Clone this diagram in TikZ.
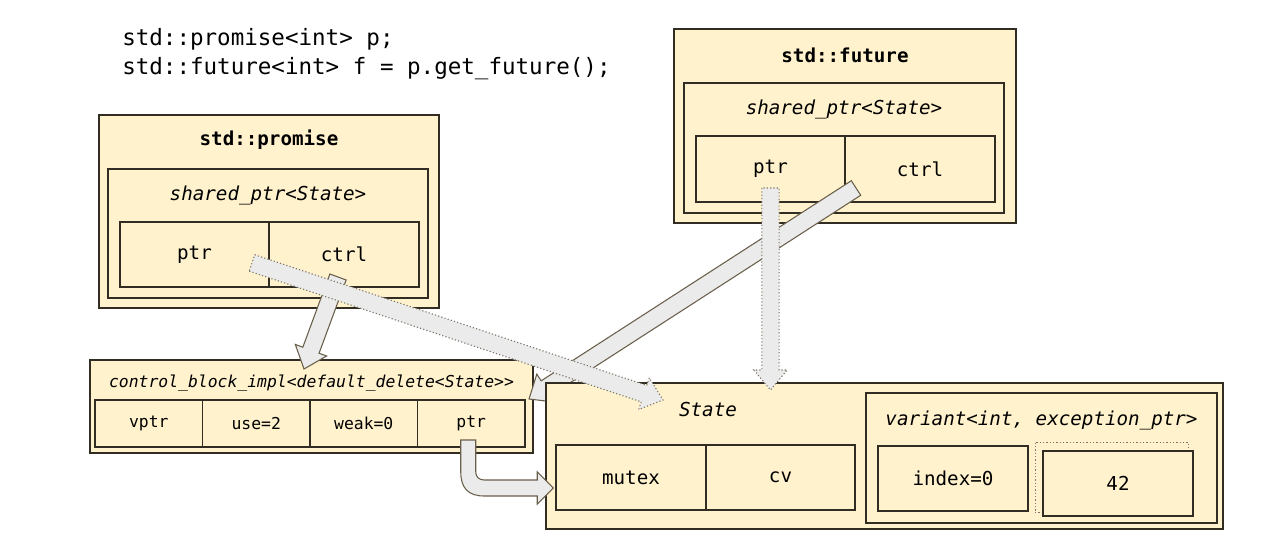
\documentclass[tikz,border=0pt]{standalone}
\usepackage{fontspec}
\setmonofont{DejaVu Sans Mono}
\usetikzlibrary{calc,positioning}

\definecolor{boxfill}{RGB}{255,242,204}
\definecolor{boxline}{RGB}{50,45,35}
\definecolor{arrowfill}{RGB}{235,235,235}
\definecolor{arrowline}{RGB}{105,95,75}
\definecolor{dotline}{RGB}{125,118,105}

\newcommand\lbl{\ttfamily\fontsize{14.4}{17}\selectfont}
\newcommand\sml{\ttfamily\fontsize{12.3}{14}\selectfont}
\newcommand\codefont{\ttfamily\fontsize{16.9}{21.75}\selectfont}

% wide block arrow from #2 to #3
\newcommand\fatarrow[3][fat]{%
  \draw[#1] let \p1=($(#3)-(#2)$), \n1={atan2(\y1,\x1)}, \n2={veclen(\x1,\y1)} in
    [shift={(#2)}, rotate=\n1]
    (0pt,-6.5pt) -- ({\n2-15pt},-6.5pt) -- ({\n2-15pt},-12.5pt) -- ({\n2-0pt},0pt)
    -- ({\n2-15pt},12.5pt) -- ({\n2-15pt},6.5pt) -- (0pt,6.5pt) -- cycle;}

\begin{document}
\begin{tikzpicture}[x=0.75pt,y=-0.75pt,
  box/.style={draw=boxline,fill=boxfill,line width=1pt,inner sep=0pt,outer sep=0pt},
  sz/.style 2 args={minimum width=#1*0.75pt,minimum height=#2*0.75pt},
  cell/.style={box,sz={150}{65},font=\lbl},
  ccell/.style={box,sz={107.5}{47},font=\sml},
  txt/.style={inner sep=0pt,font=\lbl},
  fat/.style={fill=arrowfill,draw=arrowline,line width=0.8pt},
  fatdot/.style={fat,draw=dotline,dash pattern=on 0.9pt off 1.6pt}]

  \fill[white] (0,0) rectangle (1262,552);
  \useasboundingbox (0,0) rectangle (1262,552);

  % Source lines
  \node[txt, font=\codefont, align=left, anchor=west] (src) at (122,54.5)
    {std::promise<int> p;\\std::future<int> f = p.get\_future();};

  % promise
  \node[box, sz={340}{193}] (prm) at (269,211.5) {};
  \node[txt, font={\lbl\bfseries}] (prmt) at (269,140) {std::promise};
  \node[box, sz={320}{129}] (prmsp) at (268,233.5) {};
  \node[txt, font={\lbl\itshape}] (prmsl) at (268,195) {shared\_ptr<State>};
  \node[cell, sz={149}{65}] (pptr) at (194.5,254.5) {ptr};
  \node[cell, right=0pt of pptr] (pctrl) {ctrl};

  % future
  \node[box, sz={342}{194}] (fut) at (845,126) {};
  \node[txt, font={\lbl\bfseries}] (futt) at (845,55) {std::future};
  \node[box, sz={320}{130}] (futsp) at (844,148) {};
  \node[txt, font={\lbl\itshape}] (futsl) at (844,109) {shared\_ptr<State>};
  \node[cell, sz={149}{66}] (fptr) at (770.5,169) {ptr};
  \node[cell, sz={150}{66}, right=0pt of fptr] (fctrl) {ctrl};

  % control block
  \node[box, sz={443}{93}] (cb) at (311.5,406.5) {};
  \node[txt, font={\sml\itshape}] (cbt) at (311.5,383)
    {control\_block\_impl<default\_delete<State>{}>};
  \node[ccell] (cvptr) at (148.75,423.5) {vptr};
  \node[ccell, right=0pt of cvptr] (cuse) {use=2};
  \node[ccell, right=0pt of cuse] (cweak) {weak=0};
  \node[ccell, right=0pt of cweak] (cptr) {ptr};

  % future ctrl -> control block (under the state box)
  \coordinate (a3s) at ($(fctrl.center)+(-64,19)$);
  \coordinate (a3e) at ($(cb.north east)+(-4,39)$);
  \fatarrow{a3s}{a3e}

  % shared state
  \node[box, sz={677}{146}] (st) at (884.5,456) {};
  \node[txt, font={\lbl\itshape}] (stt) at (708,410) {State};
  \node[cell] (mutex) at (631,477.5) {mutex};
  \node[cell, sz={149}{65}, right=0pt of mutex] (cv) {cv};
  \node[box, sz={351}{130}] (var) at (1041.5,458) {};
  \node[txt, font={\lbl\itshape}] (vart) at (1041.5,420) {variant<int, exception\_ptr>};
  \node[cell] (vidx) at (953,478.5) {index=0};
  \node[draw=dotline, dash pattern=on 0.9pt off 1.6pt, sz={153}{70}] (vslot) at (1111.5,477) {};
  \node[cell] (v42) at (1118,483.5) {42};

  % promise ctrl -> control block
  \coordinate (a1s) at ($(pctrl.center)+(-6,22.5)$);
  \coordinate (a1e) at ($(cb.north)+(-7.5,9)$);
  \fatarrow{a1s}{a1e}

  % promise ptr -> state
  \coordinate (a2s) at ($(pptr.center)+(57.5,8.5)$);
  \coordinate (a2e) at ($(stt.center)+(-45,-10)$);
  \fatarrow[fatdot]{a2s}{a2e}

  % future ptr -> state
  \coordinate (a4s) at ($(fptr.center)+(0,19)$);
  \coordinate (a4e) at ($(fptr.center |- st.north)+(0,7)$);
  \fatarrow[fatdot]{a4s}{a4e}

  % control block ptr -> state
  \coordinate (a5s) at ($(cptr.center)+(-3,16.5)$);
  \draw[fat, shift={(a5s)}] (-7.5,0) -- (-7.5,32) .. controls (-7.5,48) and (0,56) .. (16,56)
    -- (69,56) -- (69,64) -- (85,48) -- (69,32) -- (69,40) -- (16,40)
    .. controls (11,40) and (7.5,37) .. (7.5,32) -- (7.5,0) -- cycle;
\end{tikzpicture}
\end{document}
